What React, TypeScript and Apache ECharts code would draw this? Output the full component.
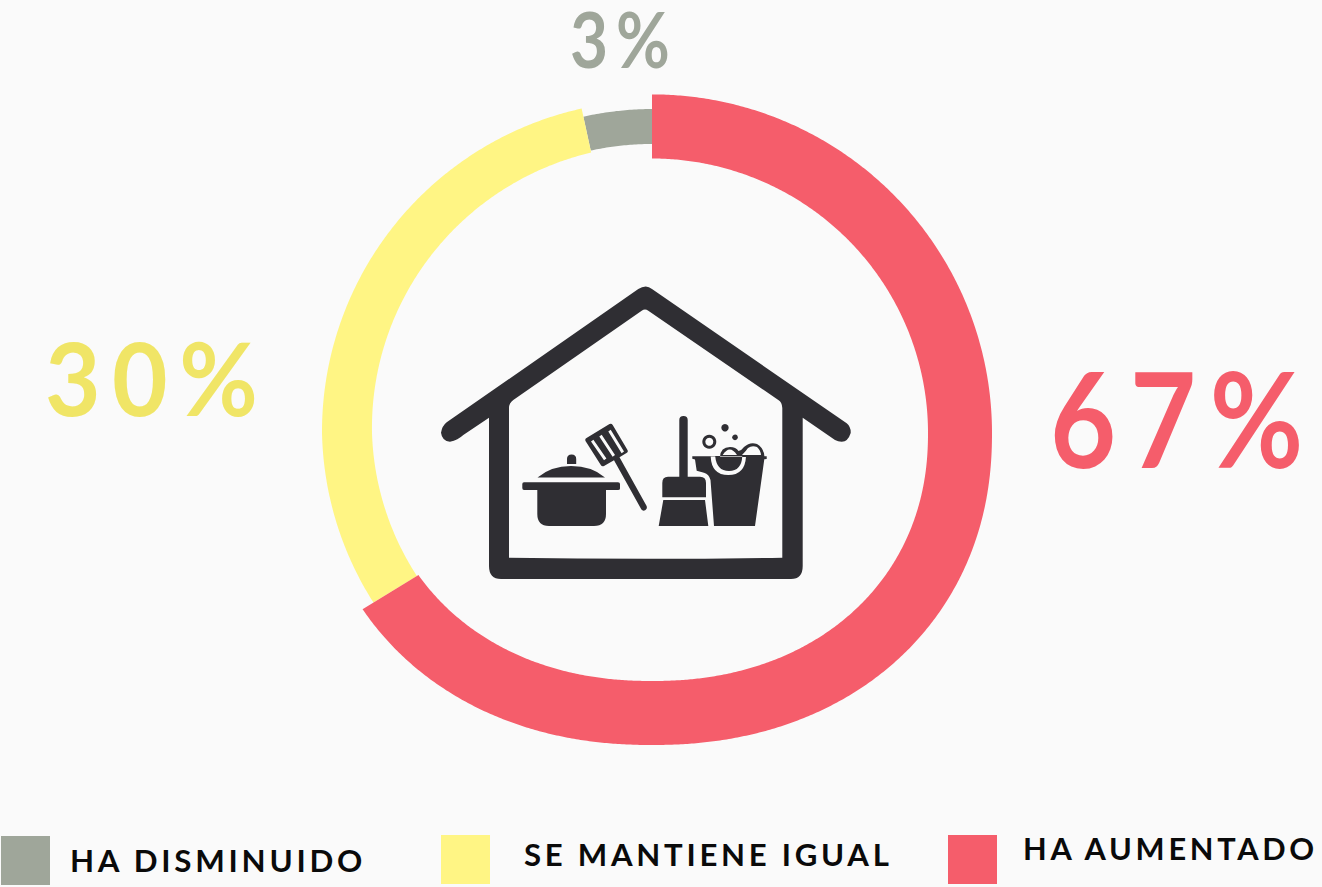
import React, { useEffect, useRef } from "react";
import * as echarts from "echarts";

// Data
const categories = ["HA DISMINUIDO", "SE MANTIENE IGUAL", "HA AUMENTADO"];
const percentLabels = [3, 30, 67];
// Arc shares (clockwise, ending at 12 o'clock)
const arcShares = [3.4, 30.3, 66.3];
const colors = ["#9fa69a", "#fff584", "#f55d6b"];
const labelColors = ["#9fa69a", "#f0e566", "#f55d6b"];

const BG = "#fafafa";
const DARK = "#2f2e33";
const CX = 652;
const CY = 433;

type Knot = [number, number, number];
const yellowKnots: Knot[] = [
  [238, 326, 275],
  [270, 330, 280],
  [348, 332, 287],
];
const greyKnots: Knot[] = [
  [340, 323.5, 289],
  [360, 324, 289],
];

function lerpKnots(knots: Knot[], deg: number): [number, number] {
  if (deg <= knots[0][0]) return [knots[0][1], knots[0][2]];
  for (let i = 1; i < knots.length; i++) {
    if (deg <= knots[i][0]) {
      const t = (deg - knots[i - 1][0]) / (knots[i][0] - knots[i - 1][0]);
      return [
        knots[i - 1][1] + t * (knots[i][1] - knots[i - 1][1]),
        knots[i - 1][2] + t * (knots[i][2] - knots[i - 1][2]),
      ];
    }
  }
  const l = knots[knots.length - 1];
  return [l[1], l[2]];
}

function superR(deg: number, rx: number, ry: number, p: number) {
  const a = (deg * Math.PI) / 180;
  const s = Math.abs(Math.sin(a));
  const c = Math.abs(Math.cos(a));
  return 1 / Math.pow(Math.pow(s / rx, p) + Math.pow(c / ry, p), 1 / p);
}

function redRadii(deg: number): [number, number] {
  const lower = Math.cos((deg * Math.PI) / 180) < 0;
  if (lower) return [superR(deg, 340, 312, 2.15), superR(deg, 276, 248, 2.15)];
  return [superR(deg, 340, 338.6, 2), superR(deg, 276, 274.5, 2)];
}

function radii(index: number, deg: number): [number, number] {
  if (index === 0) return lerpKnots(greyKnots, deg);
  if (index === 1) return lerpKnots(yellowKnots, deg);
  return redRadii(deg);
}

function arcPoints(index: number, startDeg: number, endDeg: number) {
  const steps = Math.max(4, Math.ceil((endDeg - startDeg) / 0.4));
  const outer: number[][] = [];
  const inner: number[][] = [];
  for (let i = 0; i <= steps; i++) {
    const deg = startDeg + ((endDeg - startDeg) * i) / steps;
    const a = (deg * Math.PI) / 180;
    const [ro, ri] = radii(index, deg);
    outer.push([CX + ro * Math.sin(a), CY - ro * Math.cos(a)]);
    inner.push([CX + ri * Math.sin(a), CY - ri * Math.cos(a)]);
  }
  return outer.concat(inner.reverse());
}

const houseD =
  "M645.7 286.5 Q649 286.5 652 289 L846.7 423.3 Q851 427 850.7 433 Q848 441.7 841.7 441.7 Q838 441.7 835 440 L802.7 417.7 L802.7 566 Q802.7 579 791 579 L501 579 Q489 579 489 566 L489 417.7 L463.3 435 Q458 440 450 441.7 Q442 441 441 432.7 Q442 426 446.7 422.3 L638.3 289 Q642 286.5 645.7 286.5 Z " +
  "M509 557.7 Q646 560 782.3 557.7 L782.3 408 Q782 402 778.3 400 L648.3 310.7 Q645 308.5 641.7 310.7 L513.3 400 Q509 403 509 408 Z";
const potD =
  "M524 482.3 L618 482.3 Q620 482.3 620 484 L620 488.5 Q620 490 618 490 L606 490 L606 514 Q606 526 594 526 L549 526 Q537.3 526 537.3 514 L537.3 490 L524 490 Q522.3 490 522.3 488 L522.3 484 Q522.3 482.3 524 482.3 Z " +
  "M537.5 477.5 Q551 466 571 466 Q592 466 605 477.5 Z " +
  "M567 464 L567 459 Q567 454.5 571.6 454.5 Q576.2 454.5 576.2 459 L576.2 464 Z";
const spatulaD =
  "M586.5 438 L609.5 424 Q611.5 423 612.7 425 L627.5 450 Q628.5 452 626.5 453 L619.5 457.3 L646.6 506 Q647.5 508.5 645.5 510 Q643 511.5 641.4 509.5 L614 460.3 L604 466 Q602 467 600.8 465 L585.5 441 Q584.7 439 586.5 438 Z";
const broomD =
  "M679.3 420 Q679.3 416 683.5 416 Q687.7 416 687.7 420 L687.7 476.7 L700 476.7 Q706 476.7 706 483 L706 497.3 L662.3 497.3 L662.3 483 Q662.3 476.7 668 476.7 L679.3 476.7 Z " +
  "M663.3 500 L705 500 L708.3 526 L658.7 526 Z";
const bucketD =
  "M692.3 456.2 L766.7 456.2 L766.7 459 L764.3 459.3 L755 526 L714 526 L710.5 480 Q709 474 704 472.7 L696.7 470.7 L695 459.5 L692.3 458.8 Z";
const slotsD =
  "M591 441.5 L593.4 439.8 L606.4 458.5 L604 460.2 Z " +
  "M599.3 436.5 L601.7 434.8 L615 455 L612.6 456.7 Z " +
  "M608.3 431.5 L610.7 429.8 L624 451.5 L621.6 453.2 Z " +
  "M710.7 456.4 Q711.5 475 728.3 475 Q745 475 746 456.4 Z";
const sudsD =
  "M715.2 456 Q716.5 471 729 471 Q741.5 471 742.3 456 Z " +
  "M720 457 Q720.5 447 730 447 Q736 447 738.5 451 Q742 450 744 447 Q750 441.5 757 444 Q764 448 764.5 457 Z";
const sudsLightD =
  "M722.7 455 Q729.7 444 737 455 Z " +
  "M742 455 Q746 451 748 448 Q752 445 757 447 Q760.5 450 761 455 Z";

const shapes: Record<string, string> = {
  iconHouse: houseD,
  iconPot: potD,
  iconSpatula: spatulaD,
  iconBroom: broomD,
  iconBucket: bucketD,
  iconSlots: slotsD,
  iconSuds: sudsD,
  iconSudsLight: sudsLightD,
};
Object.keys(shapes).forEach((k) => {
  echarts.graphic.registerShape(k, echarts.graphic.extendPath(shapes[k] as any, {}) as any);
});

const legendSpots = [
  { rect: [1, 836], tx: 70, ty: 860, sx: 1.01 },
  { rect: [441, 835], tx: 524, ty: 854, sx: 1.005 },
  { rect: [948, 835], tx: 1023, ty: 848, sx: 0.993 },
];
const labelSpots = [
  { x: 570, y: 39, size: 76, sx: 0.865 },
  { x: 45, y: 376, size: 102, sx: 0.94 },
  { x: 1050, y: 417, size: 132, sx: 0.865 },
];

export default function App() {
  const ref = useRef<HTMLDivElement>(null);
  useEffect(() => {
    const chart = echarts.init(ref.current!, undefined, { renderer: "svg" });
    const cum: number[] = [];
    let end = 360;
    arcShares.forEach((s, i) => {
      cum[i] = end;
      end -= (s / 100) * 360;
    });
    const iconGraphics: any[] = [
      { type: "iconHouse", style: { fill: DARK } },
      { type: "iconPot", style: { fill: DARK } },
      { type: "iconSpatula", style: { fill: DARK } },
      { type: "iconBroom", style: { fill: DARK } },
      { type: "iconBucket", style: { fill: DARK } },
      { type: "iconSlots", style: { fill: BG } },
      { type: "iconSuds", style: { fill: DARK } },
      { type: "iconSudsLight", style: { fill: BG } },
      { type: "ring", shape: { cx: 709.3, cy: 441.7, r: 7, r0: 4 }, style: { fill: DARK } },
      { type: "circle", shape: { cx: 725, cy: 427.7, r: 3.7 }, style: { fill: DARK } },
      { type: "circle", shape: { cx: 735, cy: 437.3, r: 2.8 }, style: { fill: DARK } },
    ];
    const legendGraphics: any[] = [];
    categories.forEach((c, i) => {
      legendGraphics.push({
        type: "rect",
        shape: { x: legendSpots[i].rect[0], y: legendSpots[i].rect[1], width: 49, height: 49 },
        style: { fill: colors[i] },
      });
      legendGraphics.push({
        type: "text",
        x: legendSpots[i].tx,
        y: legendSpots[i].ty,
        scaleX: legendSpots[i].sx,
        style: {
          text: c,
          font: "700 31px Lato",
          fill: "#0a0a0a",
          textAlign: "left",
          textVerticalAlign: "middle",
        },
      });
    });
    const labelGraphics: any[] = percentLabels.map((v, i) => ({
      type: "text",
      x: labelSpots[i].x,
      y: labelSpots[i].y,
      scaleX: labelSpots[i].sx,
      style: {
        text: `${v}%`,
        font: `700 ${labelSpots[i].size}px Lato`,
        fill: labelColors[i],
        textAlign: "left",
        textVerticalAlign: "middle",
      },
    }));
    chart.setOption({
      animation: false,
      backgroundColor: BG,
      series: [
        {
          type: "custom",
          coordinateSystem: "none",
          silent: true,
          data: arcShares.map((v, i) => ({ name: categories[i], value: v })),
          renderItem: (params: any, api: any) => {
            const i = params.dataIndex;
            const share = api.value(0);
            const stop = cum[i];
            const start = stop - (share / 100) * 360;
            return {
              type: "polygon",
              shape: { points: arcPoints(i, start, stop) },
              style: { fill: colors[i] },
            };
          },
        },
      ],
      graphic: { elements: [...iconGraphics, ...labelGraphics, ...legendGraphics] },
    });
    return () => chart.dispose();
  }, []);
  return (
    <>
      <style>{`html,body{margin:0;background:${BG};} svg text{letter-spacing:0.12em;}`}</style>
      <div ref={ref} style={{ width: 1322, height: 887 }} />
    </>
  );
}
